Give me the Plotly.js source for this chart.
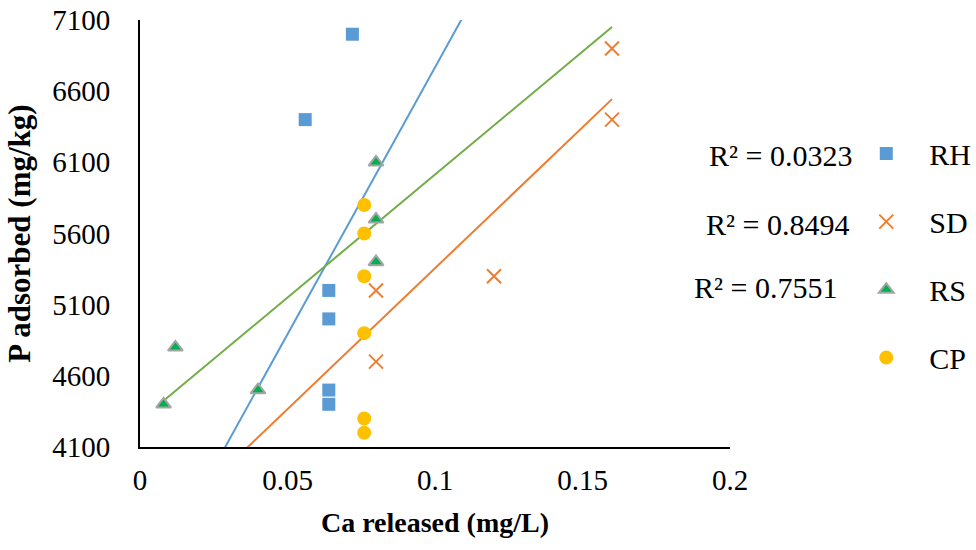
<!DOCTYPE html>
<html>
<head>
<meta charset="utf-8">
<script src="https://cdn.plot.ly/plotly-3.0.1.min.js"></script>
<style>html,body{margin:0;padding:0;background:#fff;}#chart{width:976px;height:550px;}</style>
</head>
<body>
<div id="chart"></div>
<script>
// Data
const seriesNames = ["RH", "SD", "RS", "CP"];
const rhX = [0.072, 0.056, 0.064, 0.064, 0.064, 0.064];
const rhY = [7000, 6400, 5200, 5000, 4500, 4400];
const sdX = [0.16, 0.16, 0.12, 0.08, 0.08];
const sdY = [6900, 6400, 5300, 5200, 4700];
const rsX = [0.008, 0.012, 0.04, 0.08, 0.08, 0.08];
const rsY = [4400, 4800, 4500, 6100, 5700, 5400];
const cpX = [0.076, 0.076, 0.076, 0.076, 0.076, 0.076];
const cpY = [5800, 5600, 5300, 4900, 4300, 4200];
const r2Labels = ["R² = 0.0323", "R² = 0.8494", "R² = 0.7551"];
// linear trendlines (RH, SD, RS): y = slope * x + intercept
const trendSlope = [37500, 19800, 17280];
const trendIntercept = [3017, 3376, 4286];
// trendline x-extents (Excel forecast spans)
const trendFrom = [0, 0, 0.008];
const trendTo = [0.2, 0.16, 0.16];
const xTicks = [0, 0.05, 0.1, 0.15, 0.2];
const yTicks = [4100, 4600, 5100, 5600, 6100, 6600, 7100];

const trendColors = ["#5B9BD5", "#ED7D31", "#70AD47"];
function trend(i) {
  const xs = [trendFrom[i], trendTo[i]];
  return { x: xs, y: xs.map(x => trendSlope[i] * x + trendIntercept[i]), mode: "lines", type: "scatter",
    line: { color: trendColors[i], width: 2 }, showlegend: false, hoverinfo: "skip" };
}

const font = "Liberation Serif";
const traces = [
  trend(0), trend(1), trend(2),
  { x: rhX, y: rhY, name: seriesNames[0], legendgroup: "a", mode: "markers", type: "scatter",
    marker: { symbol: "square", size: 13, color: "#5B9BD5" } },
  { x: sdX, y: sdY, name: seriesNames[1], legendgroup: "b", mode: "markers", type: "scatter",
    marker: { symbol: "x-thin-open", size: 14, color: "#ED7D31", line: { color: "#ED7D31", width: 2 } } },
  { x: rsX, y: rsY, name: seriesNames[2], legendgroup: "c", mode: "markers", type: "scatter",
    marker: { symbol: "triangle-up", size: 13, color: "#00B050", line: { color: "#A5A5A5", width: 2 } } },
  { x: cpX, y: cpY, name: seriesNames[3], legendgroup: "d", mode: "markers", type: "scatter",
    marker: { symbol: "circle", size: 14, color: "#FFC000" } }
];

const layout = {
  width: 976, height: 550,
  margin: { l: 140, r: 246, t: 20, b: 103, autoexpand: false },
  paper_bgcolor: "#fff", plot_bgcolor: "#fff",
  font: { family: font, size: 30, color: "#000" },
  xaxis: {
    range: [0, 0.2], tickvals: xTicks, ticktext: xTicks.map(String),
    showgrid: false, zeroline: false, showline: true, linecolor: "#000", linewidth: 2,
    ticks: "", tickfont: { family: font, size: 29 }, ticklabelstandoff: 6, automargin: false,
    title: { text: "<b>Ca released (mg/L)</b>", font: { family: font, size: 28 }, standoff: 18 }
  },
  yaxis: {
    range: [4100, 7100], tickvals: yTicks, ticktext: yTicks.map(String),
    showgrid: false, zeroline: false, showline: true, linecolor: "#000", linewidth: 2,
    ticks: "", tickfont: { family: font, size: 29 }, ticklabelstandoff: 22, automargin: false,
    title: { text: "<b>P adsorbed (mg/kg)</b>", font: { family: font, size: 31 }, standoff: 12 }
  },
  legend: { x: 1.192, y: 0.748, xanchor: "left", yanchor: "top", itemwidth: 76, font: { family: font, size: 30 },
    tracegroupgap: 26, bgcolor: "rgba(0,0,0,0)" },
  showlegend: true,
  annotations: [
    { xref: "paper", yref: "y", x: 1.21, y: 6150, text: r2Labels[0], showarrow: false, xanchor: "right", font: { family: font, size: 30 } },
    { xref: "paper", yref: "y", x: 1.205, y: 5660, text: r2Labels[1], showarrow: false, xanchor: "right", font: { family: font, size: 30 } },
    { xref: "paper", yref: "y", x: 1.185, y: 5220, text: r2Labels[2], showarrow: false, xanchor: "right", font: { family: font, size: 30 } }
  ]
};

Plotly.newPlot("chart", traces, layout, { staticPlot: true, displayModeBar: false });
</script>
</body>
</html>
